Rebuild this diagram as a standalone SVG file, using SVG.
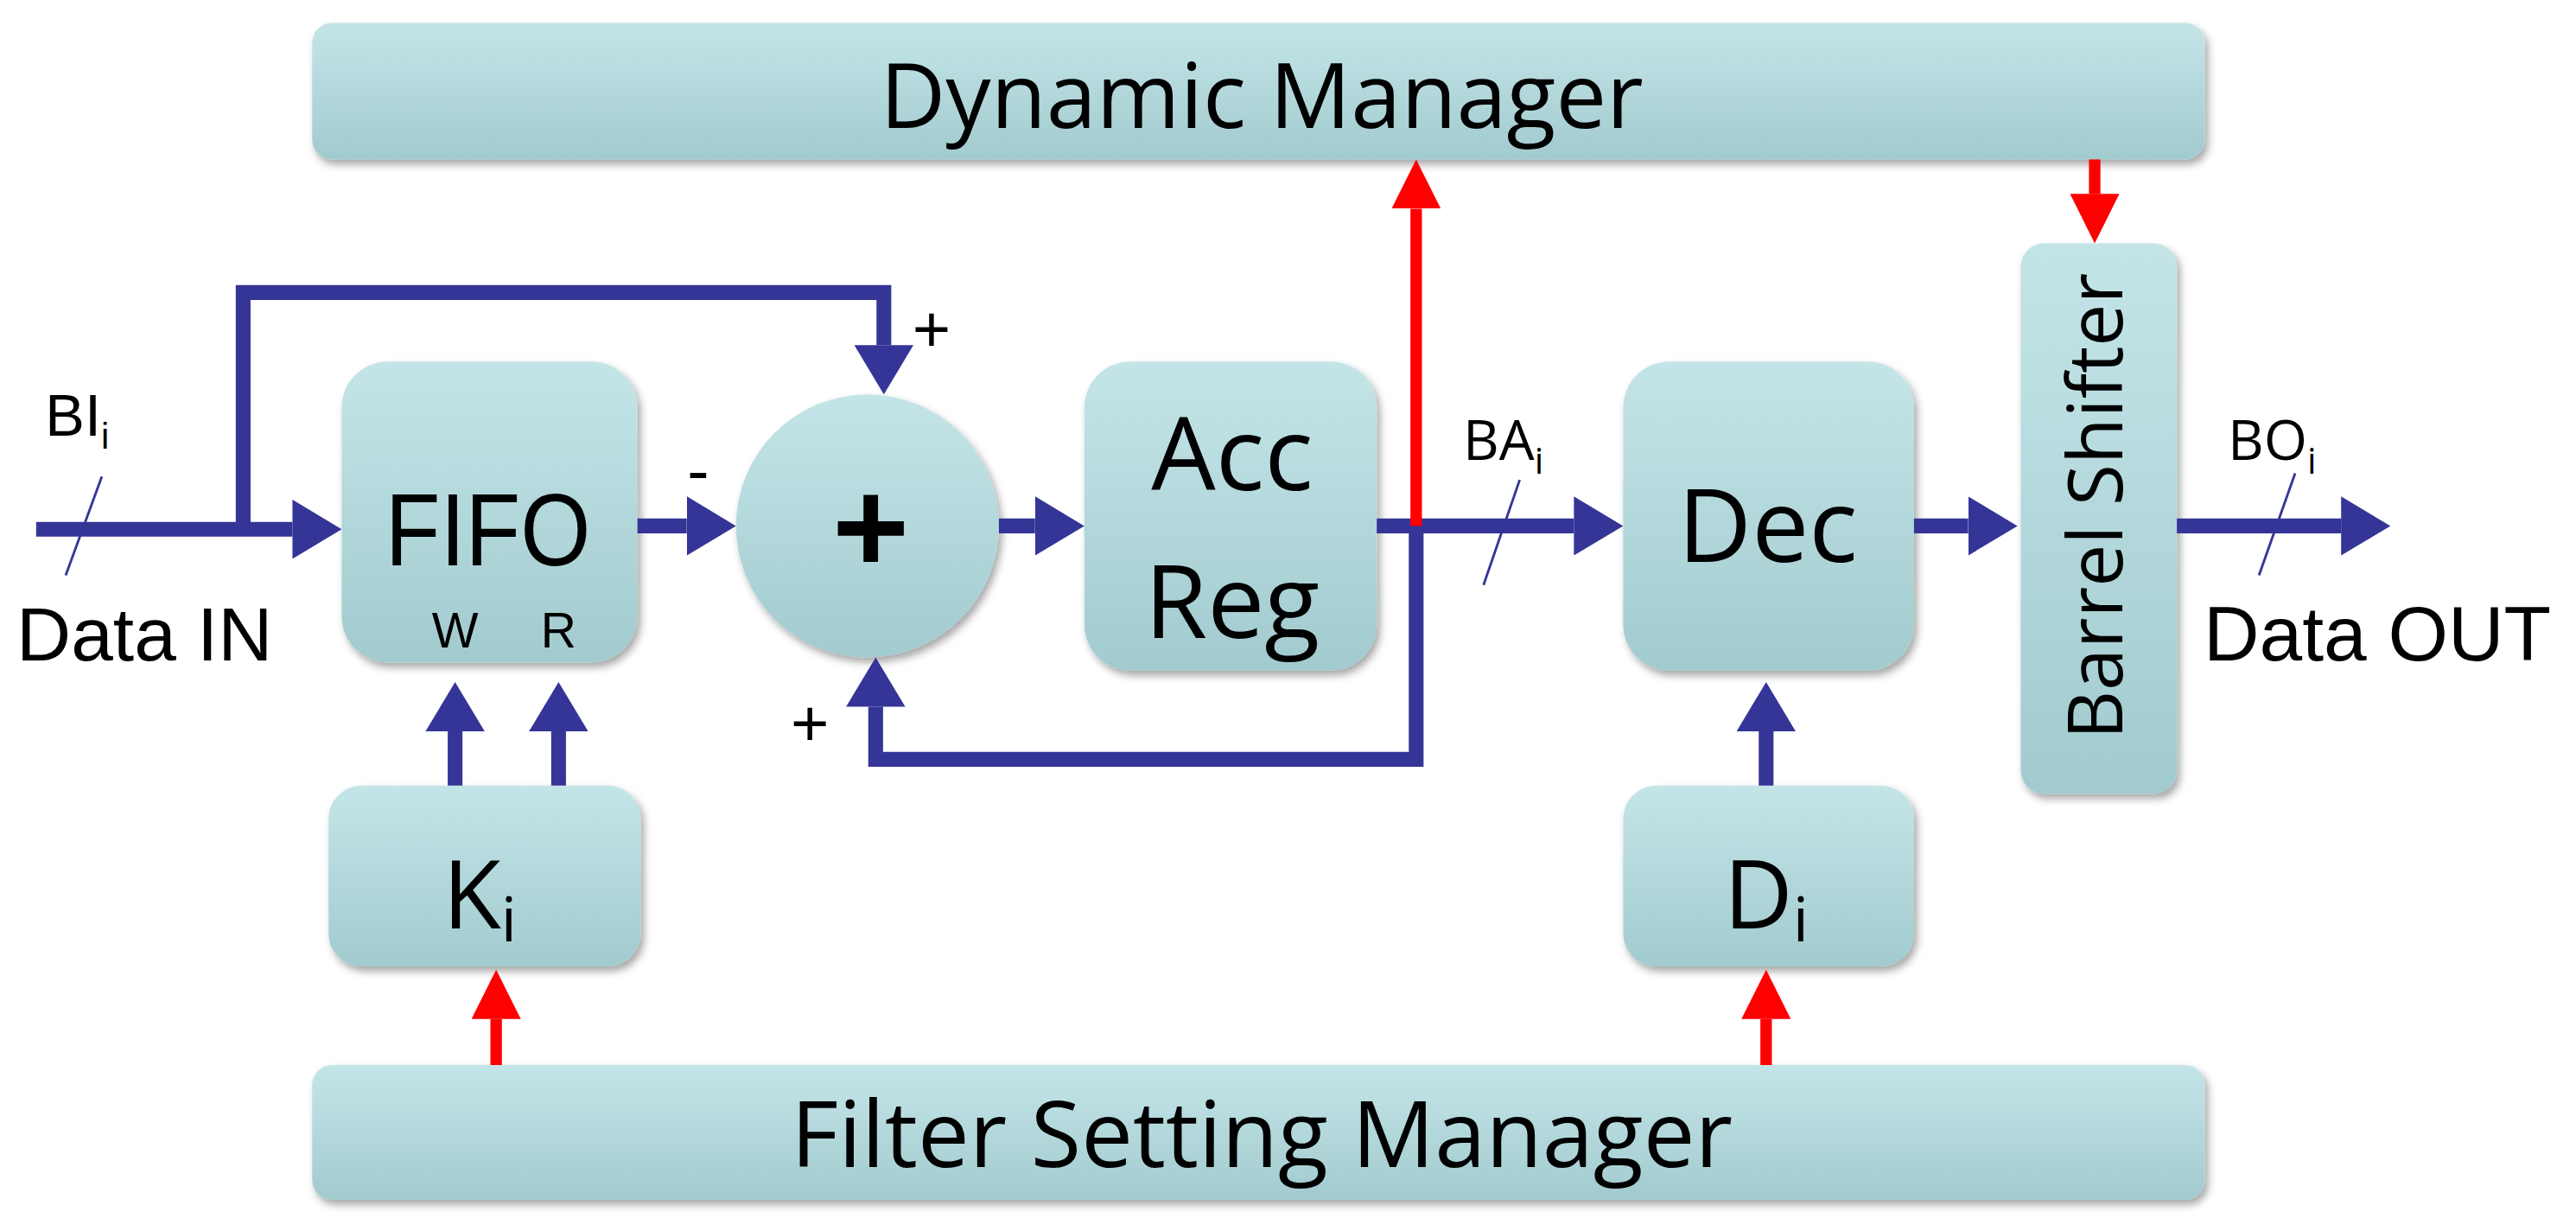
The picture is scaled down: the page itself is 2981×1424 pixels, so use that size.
<svg xmlns="http://www.w3.org/2000/svg" width="2981" height="1424" viewBox="0 0 2981 1424">
<style>
.box{fill:url(#g);filter:url(#sh)}
.b{stroke:#353597;stroke-width:9;fill:none}
.r{stroke:#ff0000;stroke-width:7;fill:none}
.t{font-family:"Open Sans","Noto Sans",sans-serif;fill:#000;text-anchor:middle}
.a{font-family:"Liberation Sans",Arial,sans-serif;fill:#000;text-anchor:middle}
.s{stroke:#353597;stroke-width:1.5}
</style>
<defs>
<linearGradient id="g" x1="0" y1="0" x2="0" y2="1"><stop offset="0" stop-color="#c4e5e8"/><stop offset="1" stop-color="#a2cbcf"/></linearGradient>
<filter id="sh" x="-10%" y="-10%" width="130%" height="130%"><feDropShadow dx="2" dy="3" stdDeviation="2.5" flood-color="#000" flood-opacity="0.35"/></filter>
<marker id="ab" markerUnits="userSpaceOnUse" markerWidth="32" markerHeight="38" refX="0" refY="18" orient="auto"><path d="M0 0L30 18L0 36Z" fill="#353597"/></marker>
<marker id="ar" markerUnits="userSpaceOnUse" markerWidth="32" markerHeight="32" refX="0" refY="15" orient="auto"><path d="M0 0L30 15L0 30Z" fill="#ff0000"/></marker>
</defs>
<rect width="2981" height="1424" fill="#fff"/>
<g transform="scale(1.9012)">
<g id="dynamic-manager"><rect class="box" x="190" y="14" width="1152" height="83" rx="12"/><text class="t" x="768" y="78" font-size="55">Dynamic Manager</text></g>
<g id="filter-setting-manager"><rect class="box" x="190" y="648" width="1152" height="82" rx="12"/><text class="t" x="768" y="710" font-size="56">Filter Setting Manager</text></g>
<g id="fifo"><rect class="box" x="208" y="220" width="180" height="183" rx="28"/><text class="a" x="297" y="344" font-size="62" textLength="125" lengthAdjust="spacingAndGlyphs">FIFO</text><text class="a" x="277" y="394" font-size="30">W</text><text class="a" x="340" y="394" font-size="30">R</text></g>
<g id="adder"><circle class="box" cx="528" cy="320" r="80"/><text class="a" x="530" y="348" font-size="80" font-weight="bold">+</text></g>
<g id="acc-reg"><rect class="box" x="660" y="220" width="178" height="188" rx="28"/><text class="t" x="750" y="298" font-size="62">Acc</text><text class="t" x="750" y="388" font-size="62">Reg</text></g>
<g id="dec"><rect class="box" x="988" y="220" width="177" height="188" rx="28"/><text class="t" x="1076" y="342" font-size="62">Dec</text></g>
<g id="ki"><rect class="box" x="200" y="478" width="190" height="110" rx="20"/><text class="t" x="292" y="565" font-size="58">K<tspan font-size="38" dy="8">i</tspan></text></g>
<g id="di"><rect class="box" x="988" y="478" width="177" height="110" rx="20"/><text class="t" x="1075" y="565" font-size="58">D<tspan font-size="38" dy="8">i</tspan></text></g>
<g id="barrel-shifter"><rect class="box" x="1230" y="148" width="95" height="335" rx="14"/><text class="t" transform="translate(1292 308) rotate(-90)" font-size="46">Barrel Shifter</text></g>
<g id="connectors">
<path class="b" d="M22 322H178" marker-end="url(#ab)"/>
<path class="b" d="M148 322V178H538V210" marker-end="url(#ab)"/>
<path class="b" d="M388 320H418" marker-end="url(#ab)"/>
<path class="b" d="M608 320H630" marker-end="url(#ab)"/>
<path class="b" d="M838 320H958" marker-end="url(#ab)"/>
<path class="b" d="M862 320V462H533V430" marker-end="url(#ab)"/>
<path class="b" d="M1165 320H1198" marker-end="url(#ab)"/>
<path class="b" d="M1325 320H1425" marker-end="url(#ab)"/>
<path class="b" d="M277 478V445" marker-end="url(#ab)"/>
<path class="b" d="M340 478V445" marker-end="url(#ab)"/>
<path class="b" d="M1075 478V445" marker-end="url(#ab)"/>
<path class="r" d="M862 320V127" marker-end="url(#ar)"/>
<path class="r" d="M1275 97V118" marker-end="url(#ar)"/>
<path class="r" d="M302 648V620" marker-end="url(#ar)"/>
<path class="r" d="M1075 648V620" marker-end="url(#ar)"/>
<line class="s" x1="40" y1="350" x2="62" y2="290"/>
<line class="s" x1="903" y1="356" x2="925" y2="292"/>
<line class="s" x1="1375" y1="350" x2="1397" y2="288"/>
</g>
<text class="a" x="88" y="402" font-size="46">Data IN</text>
<text class="a" x="47" y="265" font-size="36">BI<tspan font-size="22" dy="8">i</tspan></text>
<text class="t" x="915" y="280" font-size="34">BA<tspan font-size="22" dy="8">i</tspan></text>
<text class="t" x="1383" y="280" font-size="34">BO<tspan font-size="22" dy="8">i</tspan></text>
<text class="a" x="1447" y="402" font-size="47">Data OUT</text>
<text class="a" x="567" y="214" font-size="40">+</text>
<text class="a" x="493" y="454" font-size="40">+</text>
<text class="a" x="425" y="300" font-size="40">-</text>
</g>
</svg>
